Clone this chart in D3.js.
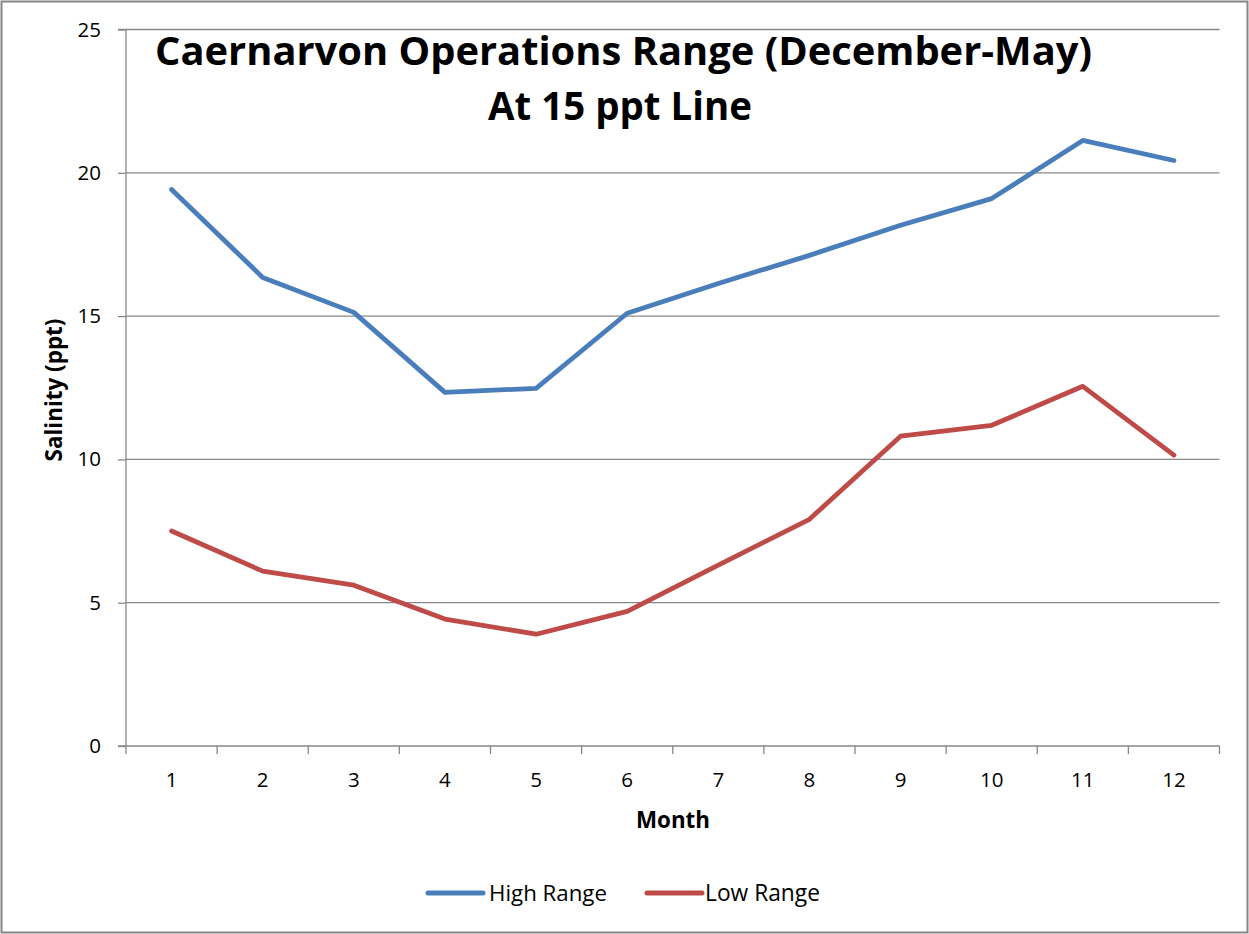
<!DOCTYPE html>
<html><head><meta charset="utf-8">
<script src="https://cdn.jsdelivr.net/npm/d3@7"></script>
<style>body{margin:0;background:#fff}svg{display:block}text{font-family:"Open Sans",Lato,sans-serif}</style>
</head><body>
<script>
const months = [1,2,3,4,5,6,7,8,9,10,11,12];
const highRange = [19.42,16.35,15.13,12.34,12.48,15.1,16.14,17.12,18.17,19.1,21.13,20.43];
const lowRange = [7.5,6.1,5.61,4.43,3.9,4.7,6.31,7.91,10.81,11.19,12.55,10.15];
const yTicks = [0,5,10,15,20,25];
const seriesNames = ["High Range","Low Range"];
const colors = ["#4a7ebb","#be4b48"];
const titleLines = ["Caernarvon Operations Range (December-May)","At 15 ppt Line"];

const W=1249,H=934;
const svg=d3.select("body").append("svg").attr("width",W).attr("height",H);
svg.append("rect").attr("x",1.5).attr("y",1.5).attr("width",W-3).attr("height",H-3).attr("fill","#fff").attr("stroke","#868686").attr("stroke-width",2);

function fit(sel,target,base){
  sel.attr("font-size",base);
  const w=sel.node().getComputedTextLength();
  sel.attr("font-size",base*target/w);
  return sel;
}

const L=126,R=1219.5,T=29.5,B=746;
const x=d3.scaleBand().domain(months).range([L,R]);
const y=d3.scaleLinear().domain([0,25]).range([B,T]);

svg.append("g").selectAll("line").data(yTicks.filter(d=>d>0)).join("line")
 .attr("x1",L).attr("x2",R).attr("y1",d=>y(d)).attr("y2",d=>y(d)).attr("stroke","#888").attr("stroke-width",1.3);

const tickFs=20.5;

const ya=svg.append("g").attr("transform",`translate(${L},0)`).call(d3.axisLeft(y).tickValues(yTicks).tickSize(8).tickPadding(17));
ya.select(".domain").attr("stroke","#888").attr("stroke-width",1.3).attr("d",`M-8,${T}H0V${B}`);
ya.selectAll(".tick line").attr("stroke","#888").attr("stroke-width",1.3);
ya.selectAll(".tick text").attr("font-size",tickFs).attr("fill","#000").attr("font-family","'Open Sans',sans-serif");

const xa=svg.append("g").attr("transform",`translate(0,${B})`).call(d3.axisBottom(x).tickSize(0).tickPadding(0));
xa.select(".domain").attr("stroke","#888").attr("stroke-width",1.3).attr("d",`M${L-8},0H${R}`);
xa.selectAll(".tick text").attr("font-size",tickFs).attr("fill","#000").attr("font-family","'Open Sans',sans-serif").attr("dy",null).attr("y",41);
const bounds=months.map(m=>x(m)).concat([R]);
xa.append("g").selectAll("line").data(bounds).join("line")
 .attr("x1",d=>d).attr("x2",d=>d).attr("y1",0).attr("y2",8).attr("stroke","#888").attr("stroke-width",1.3);

const line=d3.line().x((d,i)=>x(months[i])+x.bandwidth()/2).y(d=>y(d));
[highRange,lowRange].forEach((s,i)=>{
 svg.append("path").datum(s).attr("d",line).attr("fill","none").attr("stroke",colors[i]).attr("stroke-width",4.8).attr("stroke-linejoin","round").attr("stroke-linecap","round");
});

fit(svg.append("text").attr("x",623.5).attr("y",65).attr("text-anchor","middle").attr("font-weight","bold").text(titleLines[0]),937,40);
fit(svg.append("text").attr("x",620).attr("y",120).attr("text-anchor","middle").attr("font-weight","bold").text(titleLines[1]),264,40);

fit(svg.append("text").attr("x",673).attr("y",828).attr("text-anchor","middle").attr("font-weight","bold").text("Month"),74,20);
fit(svg.append("text").attr("transform","translate(62,390) rotate(-90)").attr("text-anchor","middle").attr("font-weight","bold").text("Salinity (ppt)"),143,20);

const lg=[{x:428,tx:489,w:118,name:seriesNames[0],c:colors[0]},{x:647,tx:705,w:115,name:seriesNames[1],c:colors[1]}];
lg.forEach(d=>{
 svg.append("line").attr("x1",d.x).attr("x2",d.x+55).attr("y1",893).attr("y2",893).attr("stroke",d.c).attr("stroke-width",5).attr("stroke-linecap","round");
 fit(svg.append("text").attr("x",d.tx).attr("y",901).text(d.name),d.w,20);
});
</script>
</body></html>
